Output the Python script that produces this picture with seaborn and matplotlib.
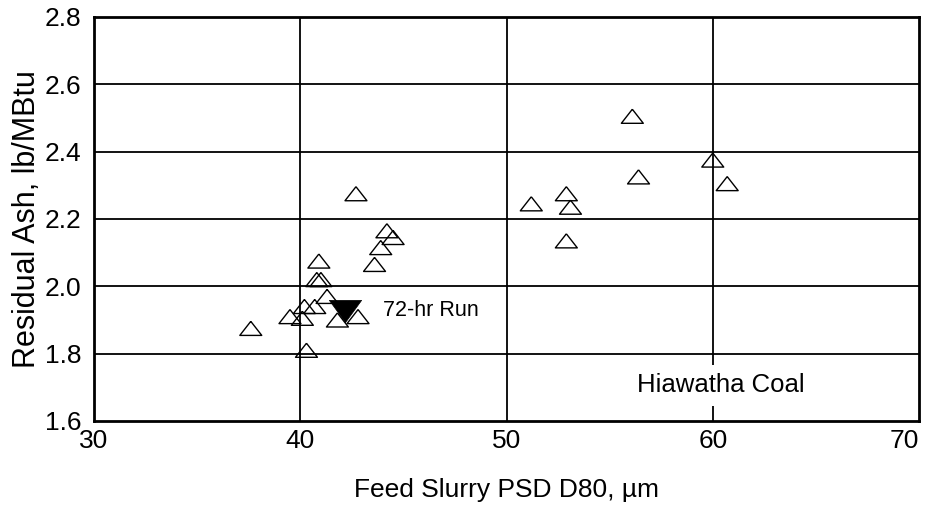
import matplotlib
matplotlib.use("Agg")
import matplotlib.pyplot as plt
import numpy as np
import pandas as pd
import seaborn as sns

# Feed slurry PSD D80 (um) and residual ash (lb/MBtu) for the Hiawatha coal tests
d80 = [42.7, 44.2, 44.5, 43.9, 43.6,
       40.9, 40.8, 41.0, 41.3, 40.2, 40.7, 39.5, 40.1, 41.8, 42.8, 37.6, 40.3,
       56.1, 60.0, 56.4, 60.7, 52.9, 51.2, 53.1, 52.9]
residual_ash = [2.275, 2.165, 2.145, 2.115, 2.065,
                2.075, 2.02, 2.02, 1.97, 1.94, 1.94, 1.91, 1.905, 1.90, 1.91, 1.875, 1.81,
                2.505, 2.375, 2.325, 2.305, 2.275, 2.245, 2.235, 2.135]

# The 72-hour continuous run
run72_d80 = [42.15]
run72_ash = [1.928]
run72_label = "72-hr Run"
coal_label = "Hiawatha Coal"

x_ticks = [30, 40, 50, 60, 70]
y_ticks = [1.6, 1.8, 2.0, 2.2, 2.4, 2.6, 2.8]

sns.set_style("white")
plt.rcParams["font.family"] = ["Liberation Sans", "DejaVu Sans"]
plt.rcParams["text.color"] = "black"
plt.rcParams["axes.labelcolor"] = "black"

fig = plt.figure(figsize=(9.33, 5.14), dpi=100)
ax = fig.add_axes([0.1008, 0.181, 0.8842, 0.786])

tests = pd.DataFrame({"d80": d80, "ash": residual_ash})
run72 = pd.DataFrame({"d80": run72_d80, "ash": run72_ash})

# closed triangle outlines: flat, wider than tall
tri_up = [(0, 0.64), (-1, -0.64), (1, -0.64), (0, 0.64)]
tri_down = [(0, -0.69), (-1, 0.69), (1, 0.69), (0, -0.69)]

sns.scatterplot(data=tests, x="d80", y="ash", ax=ax, marker=tri_up, s=250,
                facecolor="none", edgecolor="black", linewidth=1.0, zorder=4)
sns.scatterplot(data=run72, x="d80", y="ash", ax=ax, marker=tri_down, s=540,
                color="black", edgecolor="black", linewidth=0.5, zorder=5)

ax.set_xlim(30, 70)
ax.set_ylim(1.6, 2.8)
ax.set_xticks(x_ticks)
ax.set_yticks(y_ticks)
ax.set_xticklabels([str(v) for v in x_ticks])
ax.set_yticklabels([f"{v:.1f}" for v in y_ticks])
ax.set_xticks(np.arange(35, 70, 10), minor=True)
ax.set_yticks(np.arange(1.7, 2.8, 0.2), minor=True)

# grid drawn beneath the annotation box
for xv in x_ticks[1:-1]:
    ax.axvline(xv, color="black", linewidth=1.3, zorder=0.5)
for yv in y_ticks[1:-1]:
    ax.axhline(yv, color="black", linewidth=1.3, zorder=0.5)

ax.tick_params(axis="both", which="major", direction="in", length=8, width=1.3,
               labelsize=19, colors="black", top=False, right=False)
ax.tick_params(axis="both", which="minor", direction="in", length=4, width=1.3,
               top=False, right=False)
ax.tick_params(axis="x", which="major", pad=6)
ax.tick_params(axis="y", which="major", pad=9)

# keep the last x label inside the figure
ax.get_xticklabels()[-1].set_horizontalalignment("right")
ax.get_xticklabels()[-1].set_x(70)

for sp in ax.spines.values():
    sp.set_visible(True)
    sp.set_color("black")
    sp.set_linewidth(2.0)
    sp.set_zorder(6)

ax.set_xlabel("Feed Slurry PSD D80, µm", fontsize=19, labelpad=18)
ax.set_ylabel("Residual Ash, lb/MBtu", fontsize=22, labelpad=2)

ax.text(44.0, run72_ash[0], run72_label, fontsize=15.5, va="center", ha="left",
        zorder=3)
ax.text(60.4, 1.706, coal_label, fontsize=18.5, va="center", ha="center",
        zorder=1, bbox=dict(facecolor="white", edgecolor="none", pad=6))

fig.savefig("out.png", dpi=100, facecolor="white")
